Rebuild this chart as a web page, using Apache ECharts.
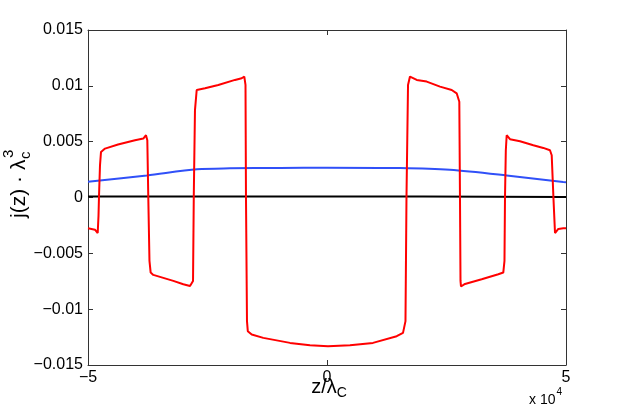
<!DOCTYPE html>
<html>
<head>
<meta charset="utf-8">
<script src="https://cdn.jsdelivr.net/npm/echarts@6/dist/echarts.min.js"></script>
<style>
  html, body { margin: 0; padding: 0; background: #fff; }
  #chart { width: 623px; height: 409px; }
</style>
</head>
<body>
<div id="chart"></div>
<script>
// z / lambda_C in units of 1e4
const redCurve = [
  [-5.0, -0.00276], [-4.854, -0.00288], [-4.797, -0.00318], [-4.78, -0.00162],
  [-4.77, 0.00009], [-4.749, 0.00288], [-4.728, 0.00408], [-4.644, 0.00438],
  [-4.372, 0.00474], [-4.017, 0.00513], [-3.843, 0.00528], [-3.787, 0.00558],
  [-3.759, 0.00513], [-3.739, 0.00009], [-3.714, -0.00567], [-3.689, -0.00672],
  [-3.634, -0.00693], [-3.215, -0.00747], [-3.006, -0.00777], [-2.866, -0.00792],
  [-2.831, -0.00807], [-2.803, -0.00747], [-2.787, 0.00009], [-2.762, 0.00783],
  [-2.726, 0.00963], [-2.552, 0.00978], [-2.274, 0.01008], [-1.925, 0.01053],
  [-1.785, 0.01068], [-1.73, 0.01083], [-1.705, 0.01008], [-1.695, 0.00009],
  [-1.674, -0.01107], [-1.657, -0.01197], [-1.575, -0.01227], [-1.333, -0.01257],
  [-0.774, -0.01302], [-0.356, -0.01323], [0.021, -0.01332], [0.481, -0.01323],
  [0.962, -0.01302], [1.458, -0.01242], [1.59, -0.01212], [1.642, -0.01107],
  [1.663, 0.00009], [1.695, 0.01008], [1.736, 0.01083], [1.877, 0.01053],
  [2.086, 0.01038], [2.364, 0.00993], [2.609, 0.00963], [2.713, 0.00933],
  [2.768, 0.00858], [2.782, 0.00009], [2.793, -0.00747], [2.803, -0.00797],
  [2.887, -0.00774], [3.236, -0.00732], [3.584, -0.00687], [3.688, -0.00672],
  [3.713, -0.00567], [3.724, 0.00009], [3.741, 0.00423], [3.759, 0.00558],
  [3.828, 0.00522], [4.038, 0.00504], [4.316, 0.00468], [4.525, 0.00444],
  [4.665, 0.00423], [4.701, 0.00378], [4.736, 0.00009], [4.77, -0.00318],
  [4.839, -0.00282], [4.944, -0.00276], [5.0, -0.00276]
];
const blueCurve = [
  [-5.0, 0.00142], [-3.77, 0.00198], [-2.72, 0.00252], [-2.03, 0.00261],
  [-0.98, 0.00265], [0, 0.00267], [1.53, 0.00264], [2.57, 0.00249],
  [3.76, 0.00198], [4.94, 0.00138], [5.0, 0.00136]
];
const blackCurve = [
  [-5.0, 0.00008], [-2.0, 0.0001], [0, 0.0001], [2.0, 0.00008], [5.0, 0.00004]
];
const yTicks = [-0.015, -0.01, -0.005, 0, 0.005, 0.01, 0.015];
const yTickLabels = ['\u22120.015', '\u22120.01', '\u22120.005', '0', '0.005', '0.01', '0.015'];
const xTicks = [-5, 0, 5];
const xTickLabels = ['\u22125', '0', '5'];

const FONT = '"Liberation Sans", Arial, Helvetica, sans-serif';
const AX = '#333';

function pickLabel(v, ticks, labels) {
  let best = 0;
  ticks.forEach((t, i) => { if (Math.abs(t - v) < Math.abs(ticks[best] - v)) best = i; });
  return labels[best];
}

const measure = document.createElement('canvas').getContext('2d');
function textW(str, size) {
  measure.font = size + 'px ' + FONT;
  return measure.measureText(str).width;
}

const chart = echarts.init(document.getElementById('chart'), null, {renderer: 'canvas'});

// y-axis title  j(z)·λ_c^3, rotated
const yMain = 'j(z) \u00b7 \u03bb';
const yMainW = textW(yMain, 21);
const ySubW = textW('c', 15);
const yStart = -(yMainW + ySubW) / 2;

// x-axis title  z/λ_C
const xMain = 'z/\u03bb';
const xMainW = textW(xMain, 20);
const xSubW = textW('C', 14);
const xStart = 329 - (xMainW + xSubW) / 2;

const baseAxis = {
  type: 'value',
  axisLine: {show: true, onZero: false, lineStyle: {color: AX, width: 1}},
  axisTick: {show: true, inside: true, length: 5, lineStyle: {color: AX}},
  splitLine: {show: false}
};

chart.setOption({
  animation: false,
  grid: {left: 88, right: 57, top: 30, bottom: 44, containLabel: false},
  xAxis: [
    Object.assign({}, baseAxis, {
      position: 'bottom', min: -5, max: 5, interval: 5,
      axisLabel: {
        show: true, margin: 5, fontSize: 16, color: '#000', fontFamily: FONT,
        formatter: v => pickLabel(v, xTicks, xTickLabels)
      }
    }),
    Object.assign({}, baseAxis, {
      position: 'top', min: -5, max: 5, interval: 5,
      axisLabel: {show: false}
    })
  ],
  yAxis: [
    Object.assign({}, baseAxis, {
      position: 'left', min: -0.015, max: 0.015, interval: 0.005,
      axisLabel: {
        show: true, margin: 5, fontSize: 16, color: '#000', fontFamily: FONT,
        formatter: v => pickLabel(v, yTicks, yTickLabels)
      }
    }),
    Object.assign({}, baseAxis, {
      position: 'right', min: -0.015, max: 0.015, interval: 0.005,
      axisLabel: {show: false}
    })
  ],
  series: [
    {
      name: 'black', type: 'line', data: blackCurve, showSymbol: false,
      lineStyle: {color: '#000', width: 2}, xAxisIndex: 0, yAxisIndex: 0
    },
    {
      name: 'blue', type: 'line', data: blueCurve, showSymbol: false, smooth: 0.3,
      lineStyle: {color: '#3050f8', width: 2}, xAxisIndex: 0, yAxisIndex: 0
    },
    {
      name: 'red', type: 'line', data: redCurve, showSymbol: false,
      lineStyle: {color: '#ff0000', width: 2}, xAxisIndex: 0, yAxisIndex: 0
    }
  ],
  graphic: [
    {
      type: 'group', x: 19, y: 185, rotation: Math.PI / 2,
      children: [
        {type: 'text', x: yStart, y: 0,
          style: {text: yMain, font: '21px ' + FONT, fill: '#000', textAlign: 'left', textVerticalAlign: 'middle'}},
        {type: 'text', x: yStart + yMainW + 0.5, y: 7,
          style: {text: 'c', font: '15px ' + FONT, fill: '#000', textAlign: 'left', textVerticalAlign: 'middle'}},
        {type: 'text', x: yStart + yMainW + 1.5, y: -10,
          style: {text: '3', font: '15px ' + FONT, fill: '#000', textAlign: 'left', textVerticalAlign: 'middle'}}
      ]
    },
    {type: 'text', x: xStart, y: 387,
      style: {text: xMain, font: '20px ' + FONT, fill: '#000', textAlign: 'left', textVerticalAlign: 'middle'}},
    {type: 'text', x: xStart + xMainW, y: 393,
      style: {text: 'C', font: '14px ' + FONT, fill: '#000', textAlign: 'left', textVerticalAlign: 'middle'}},
    {type: 'text', x: 529, y: 400,
      style: {text: 'x 10', font: '14px ' + FONT, fill: '#000', textAlign: 'left', textVerticalAlign: 'middle'}},
    {type: 'text', x: 529 + textW('x 10', 14) + 1, y: 392,
      style: {text: '4', font: '10px ' + FONT, fill: '#000', textAlign: 'left', textVerticalAlign: 'middle'}}
  ]
});
</script>
</body>
</html>
